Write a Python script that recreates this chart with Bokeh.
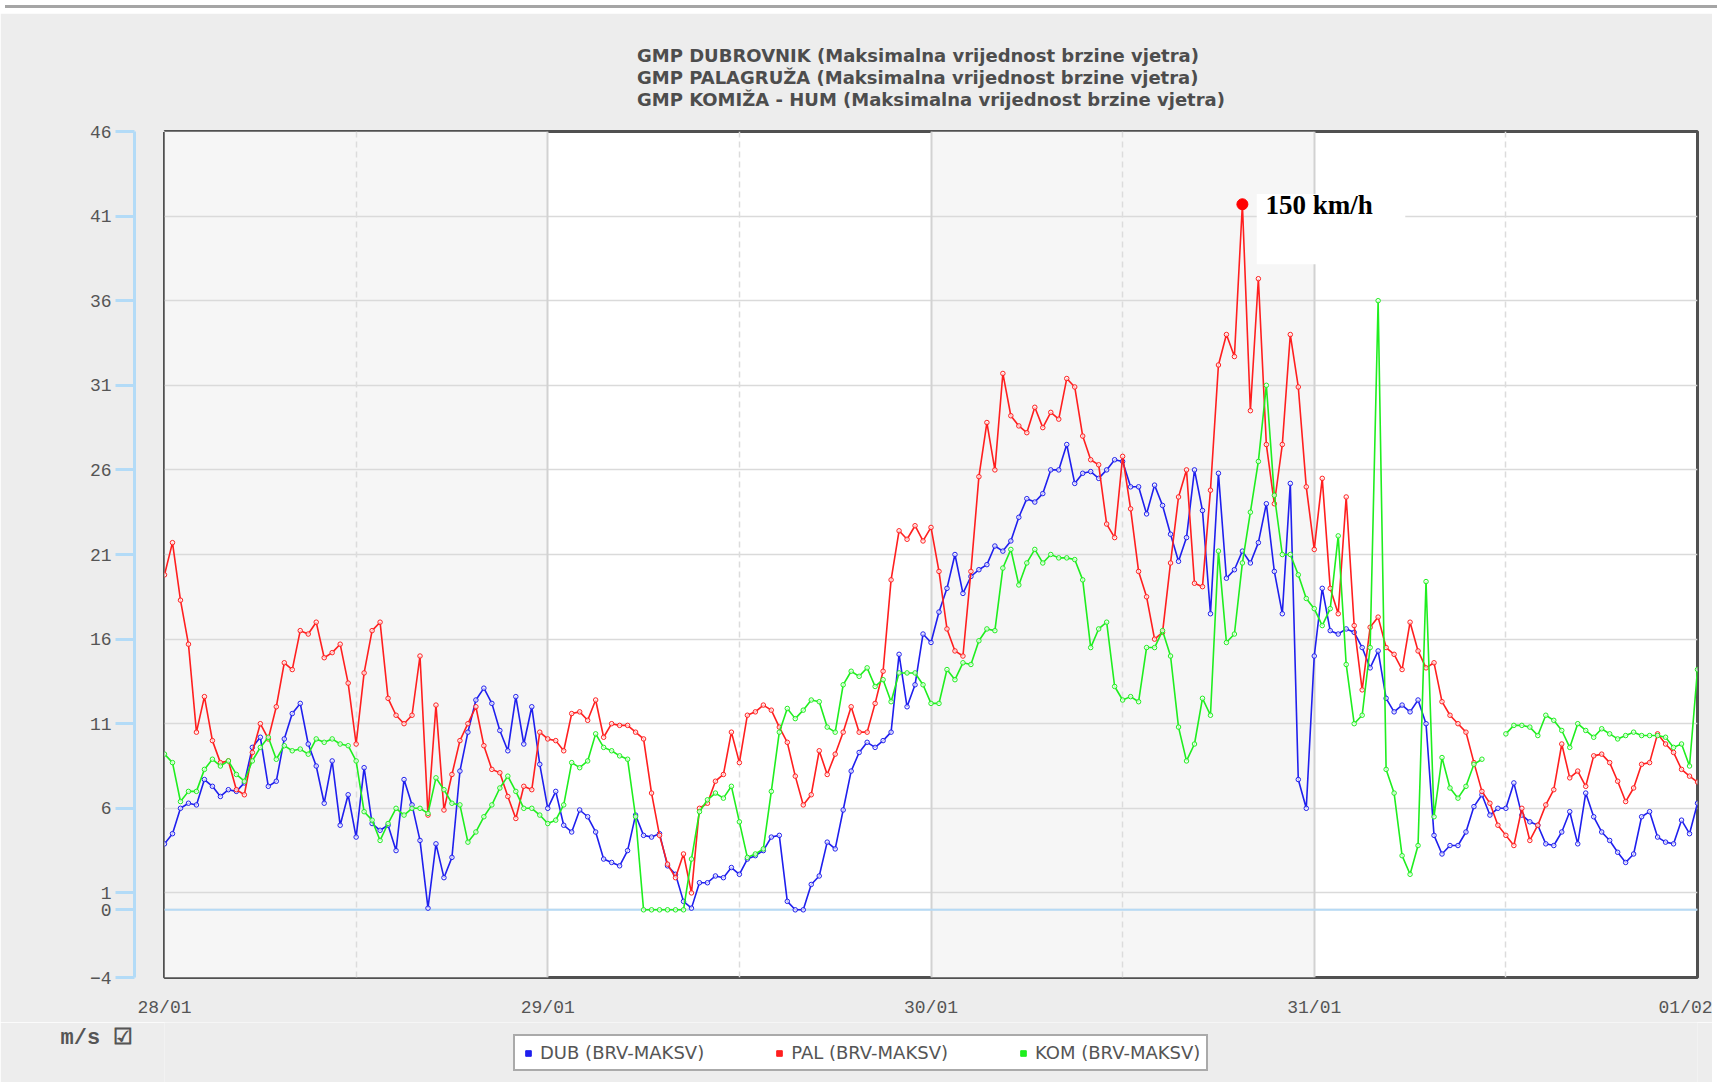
import numpy as np
from bokeh.plotting import figure
from bokeh.models import (ColumnDataSource, FixedTicker, LinearAxis, Grid, Span, Label,
                          Legend, LegendItem, BoxAnnotation, Title, Range1d, Div)
from bokeh.layouts import column
from bokeh.embed import file_html
from bokeh.resources import INLINE

nan = float("nan")

title_lines = [
    "GMP DUBROVNIK (Maksimalna vrijednost brzine vjetra)",
    "GMP PALAGRUŽA (Maksimalna vrijednost brzine vjetra)",
    "GMP KOMIŽA - HUM (Maksimalna vrijednost brzine vjetra)",
]
day_labels = ["28/01", "29/01", "30/01", "31/01", "01/02"]
y_ticks = [-4, 0, 1, 6, 11, 16, 21, 26, 31, 36, 41, 46]
series_names = ["DUB (BRV-MAKSV)", "PAL (BRV-MAKSV)", "KOM (BRV-MAKSV)"]
unit_label = "m/s"
step_hours = 0.5  # one reading every half hour, 28/01 00:00 .. 01/02 00:00

# GMP Dubrovnik (m/s)
dub = [
    3.9, 4.5, 6.0, 6.3, 6.2, 7.7, 7.3, 6.7, 7.1, 7.0, 7.5, 9.6,
    10.2, 7.3, 7.6, 10.1, 11.6, 12.2, 9.8, 8.5, 6.3, 8.8, 5.0, 6.8,
    4.3, 8.4, 5.1, 4.7, 5.0, 3.5, 7.7, 6.2, 4.1, 0.1, 3.9, 1.9,
    3.1, 8.2, 10.5, 12.4, 13.1, 12.2, 10.6, 9.4, 12.6, 9.8, 12.0, 8.6,
    6.0, 7.0, 5.0, 4.6, 5.9, 5.5, 4.6, 3.0, 2.8, 2.6, 3.5, 5.6,
    4.4, 4.3, 4.5, 2.6, 2.1, 0.5, 0.1, 1.6, 1.6, 2.0, 1.9, 2.5,
    2.1, 3.0, 3.2, 3.5, 4.3, 4.4, 0.5, 0.0, 0.0, 1.5, 2.0, 4.0,
    3.6, 5.9, 8.2, 9.3, 9.9, 9.6, 10.0, 10.5, 15.1, 12.0, 13.3, 16.3,
    15.8, 17.6, 19.0, 21.0, 18.7, 19.7, 20.1, 20.4, 21.5, 21.2, 21.8, 23.2,
    24.3, 24.1, 24.6, 26.0, 26.0, 27.5, 25.2, 25.8, 25.9, 25.5, 26.0, 26.6,
    26.5, 25.0, 25.0, 23.4, 25.1, 23.9, 22.2, 20.6, 22.0, 26.0, 23.6, 17.5,
    25.8, 19.6, 20.1, 21.2, 20.5, 21.7, 24.0, 20.0, 17.5, 25.2, 7.7, 6.0,
    15.0, 19.0, 16.5, 16.3, 16.6, 16.4, 15.5, 14.3, 15.3, 12.5, 11.7, 12.1,
    11.7, 12.4, 11.0, 4.4, 3.3, 3.8, 3.8, 4.6, 6.1, 6.8, 5.6, 6.0,
    6.0, 7.5, 5.6, 5.2, 5.0, 3.9, 3.8, 4.6, 5.8, 3.9, 6.9, 5.5,
    4.6, 4.1, 3.4, 2.8, 3.3, 5.5, 5.8, 4.3, 4.0, 3.9, 5.3, 4.5,
    6.3,
]

# GMP Palagruža (m/s)
pal = [
    19.8, 21.7, 18.3, 15.7, 10.5, 12.6, 10.0, 8.7, 8.8, 7.1, 6.8, 9.3,
    11.0, 10.1, 12.0, 14.6, 14.2, 16.5, 16.3, 17.0, 14.9, 15.2, 15.7, 13.4,
    9.8, 14.0, 16.5, 17.0, 12.5, 11.5, 11.0, 11.5, 15.0, 5.6, 12.1, 5.9,
    8.0, 10.0, 11.0, 12.0, 9.7, 8.3, 8.1, 6.7, 5.4, 7.3, 7.1, 10.5,
    10.1, 10.0, 9.4, 11.6, 11.7, 11.2, 12.4, 10.2, 11.0, 10.9, 10.9, 10.5,
    10.1, 6.9, 4.4, 2.7, 1.9, 3.3, 1.0, 6.0, 6.3, 7.6, 8.0, 10.5,
    8.7, 11.5, 11.7, 12.1, 11.8, 10.8, 9.9, 7.9, 6.2, 6.8, 9.4, 8.0,
    9.2, 10.5, 12.0, 10.5, 10.5, 12.2, 14.1, 19.5, 22.4, 21.9, 22.7, 21.8,
    22.6, 20.0, 16.6, 15.3, 15.0, 20.0, 25.6, 28.8, 26.0, 31.7, 29.2, 28.6,
    28.2, 29.7, 28.5, 29.4, 29.0, 31.4, 30.9, 28.0, 26.6, 26.3, 22.8, 22.0,
    26.8, 23.7, 20.0, 18.5, 16.0, 16.4, 20.5, 24.4, 26.0, 19.3, 19.1, 24.8,
    32.2, 34.0, 32.7, 41.7, 29.5, 37.3, 27.5, 24.0, 27.5, 34.0, 30.9, 25.0,
    21.3, 25.5, 19.0, 17.5, 24.4, 16.8, 13.0, 16.7, 17.3, 15.5, 15.1, 14.2,
    17.0, 15.3, 14.3, 14.6, 12.3, 11.5, 11.0, 10.5, 8.7, 7.0, 6.3, 5.0,
    4.4, 3.8, 6.0, 4.1, 5.0, 6.2, 7.1, 9.8, 7.8, 8.2, 7.3, 9.1,
    9.2, 8.7, 7.6, 6.4, 7.2, 8.6, 8.7, 10.4, 9.8, 9.3, 8.3, 7.9,
    7.55,
]

# GMP Komiža - Hum (m/s); nan = missing readings
kom = [
    9.2, 8.7, 6.4, 7.0, 7.0, 8.3, 8.9, 8.5, 8.8, 8.0, 7.6, 8.8,
    9.6, 10.2, 8.9, 9.7, 9.4, 9.5, 9.2, 10.1, 9.9, 10.1, 9.8, 9.7,
    8.8, 5.8, 5.3, 4.1, 5.1, 6.0, 5.6, 6.0, 6.0, 5.7, 7.8, 7.1,
    6.3, 6.2, 4.0, 4.6, 5.5, 6.2, 7.2, 7.9, 7.0, 6.0, 6.0, 5.6,
    5.1, 5.3, 6.2, 8.7, 8.4, 8.8, 10.4, 9.6, 9.4, 9.1, 8.9, 5.5,
    0.0, 0.0, 0.0, 0.0, 0.0, 0.0, 3.0, 5.8, 6.5, 6.9, 6.6, 7.3,
    5.2, 3.1, 3.3, 3.6, 7.0, 10.5, 11.9, 11.3, 11.8, 12.4, 12.3, 10.8,
    10.5, 13.3, 14.1, 13.8, 14.3, 13.2, 13.6, 12.3, 14.0, 14.0, 14.0, 13.3,
    12.2, 12.2, 14.2, 13.6, 14.6, 14.5, 15.9, 16.6, 16.5, 20.2, 21.3, 19.2,
    20.5, 21.3, 20.5, 21.0, 20.8, 20.8, 20.7, 19.5, 15.5, 16.6, 17.0, 13.2,
    12.4, 12.6, 12.3, 15.5, 15.5, 16.5, 15.0, 10.8, 8.8, 9.8, 12.5, 11.5,
    21.2, 15.8, 16.3, 20.5, 23.5, 26.5, 31.0, 24.5, 21.0, 21.0, 19.8, 18.4,
    17.8, 16.8, 17.8, 22.1, 14.5, 11.0, 11.5, 15.5, 36.0, 8.3, 6.9, 3.2,
    2.1, 3.8, 19.4, 5.5, 9.0, 7.2, 6.6, 7.3, 8.6, 8.9, nan, nan,
    10.4, 10.9, 10.9, 10.8, 10.3, 11.5, 11.2, 10.6, 9.6, 11.0, 10.6, 10.2,
    10.7, 10.4, 10.1, 10.3, 10.5, 10.3, 10.3, 10.3, 10.2, 9.6, 9.8, 8.5,
    14.2,
]

series_values = [dub, pal, kom]
series_colors = ["#1f1fee", "#ff1f1f", "#1fee1f"]

hours = np.arange(len(dub)) * step_hours
day_ticks = [24 * i for i in range(len(day_labels))]
noon_ticks = [t + 12 for t in day_ticks[:-1]]

BG = "#ededed"
W, H1, H2 = 1712, 1009, 60
p = figure(width=W, height=H1, output_backend="svg", toolbar_location=None,
           x_range=Range1d(day_ticks[0], day_ticks[-1]),
           y_range=Range1d(y_ticks[0], y_ticks[-1]),
           min_border_left=164, min_border_right=15, min_border_top=118, min_border_bottom=45,
           background_fill_color="white", border_fill_color=BG,
           outline_line_color="#505050", outline_line_width=3)
p.grid.visible = False

# alternating day bands
for a, b in zip(day_ticks[0:-1:2], day_ticks[1::2]):
    p.add_layout(BoxAnnotation(left=a, right=b, fill_color="#f6f6f6", fill_alpha=1.0,
                               line_color=None, level="image"))

# grids
p.add_layout(Grid(dimension=1, ticker=FixedTicker(ticks=y_ticks),
                  grid_line_color="#dadada", grid_line_width=1.5))
p.add_layout(Grid(dimension=0, ticker=FixedTicker(ticks=day_ticks),
                  grid_line_color="#d2d2d2", grid_line_width=2))
p.add_layout(Grid(dimension=0, ticker=FixedTicker(ticks=noon_ticks),
                  grid_line_color="#dcdcdc", grid_line_width=1.5, grid_line_dash="6 4"))
p.add_layout(Span(location=0, dimension="width", line_color="#b6daf5",
                  line_width=2, level="underlay"))

# x axis
xa = p.xaxis[0]
xa.ticker = FixedTicker(ticks=day_ticks)
xa.major_label_overrides = {t: lab for t, lab in zip(day_ticks, day_labels)}
xa.axis_line_color = None
xa.major_tick_line_color = None
xa.minor_tick_line_color = None
xa.major_tick_out = 0
xa.major_tick_in = 0
xa.major_label_standoff = 20
xa.major_label_text_font = "Liberation Mono"
xa.major_label_text_font_size = "18px"
xa.major_label_text_color = "#555555"

# spacer (default y axis): one invisible tick keeps the visible axis away from the frame
ya0 = p.yaxis[0]
ya0.ticker = FixedTicker(ticks=[y_ticks[-1]])
ya0.major_label_overrides = {y_ticks[-1]: ""}
ya0.axis_line_color = None
ya0.major_tick_line_color = BG
ya0.minor_tick_line_color = None
ya0.major_tick_out = 30
ya0.major_tick_in = 0
ya0.major_label_standoff = 0

ya = LinearAxis(ticker=FixedTicker(ticks=y_ticks))
ya.axis_line_color = "#b3dbf7"
ya.axis_line_width = 3
ya.major_tick_line_color = "#b3dbf7"
ya.major_tick_line_width = 3
ya.major_tick_out = 19
ya.major_tick_in = 0
ya.minor_tick_line_color = None
ya.major_label_standoff = 4
ya.major_label_text_font = "Liberation Mono"
ya.major_label_text_font_size = "18px"
ya.major_label_text_color = "#555555"
p.add_layout(ya, "left")

# three-line title
p.add_layout(Title(text="\n".join(title_lines), align="center", text_font="DejaVu Sans",
                   text_font_size="18px", text_font_style="bold", text_line_height=1.05,
                   text_color="#4d4d4d", standoff=42), "above")

# peak annotation box (behind the lines)
i_pk = int(np.nanargmax(pal))
pk_h, pk_v = float(hours[i_pk]), float(pal[i_pk])
p.add_layout(BoxAnnotation(left=pk_h + 0.9, right=pk_h + 10.2, top=pk_v + 0.6,
                           bottom=pk_v - 3.55, fill_color="white", fill_alpha=1.0,
                           line_color=None, level="underlay"))

# strip below the chart that carries the legend and the unit switch
# (its frame lines up with the chart frame; y runs in pixels 0..H2)
p2 = figure(width=W, height=H2, output_backend="svg", toolbar_location=None,
            x_range=Range1d(0, 1), y_range=Range1d(0, H2), x_axis_type=None, y_axis_type=None,
            min_border=0, background_fill_color=BG, border_fill_color=BG,
            outline_line_color=None)
p2.grid.visible = False

unit_tick = 51
unit_axis = LinearAxis(ticker=FixedTicker(ticks=[unit_tick]),
                       major_label_overrides={unit_tick: unit_label + "  ☑"},
                       axis_line_color=None, major_tick_line_color=None,
                       minor_tick_line_color=None, major_tick_out=0, major_tick_in=0,
                       major_label_standoff=18, major_label_text_font="Liberation Mono",
                       major_label_text_font_size="22px", major_label_text_font_style="bold",
                       major_label_text_color="#555555")
p2.add_layout(unit_axis, "left")

legend_items = []
for name, vals, col in zip(series_names, series_values, series_colors):
    src = ColumnDataSource(dict(x=hours, y=np.array(vals, dtype=float)))
    p.line("x", "y", source=src, line_color=col, line_width=1.6)
    p.scatter("x", "y", source=src, marker="circle", size=4.5, line_color=col,
              line_width=1, fill_color="white", fill_alpha=0.7)
    sq = p2.scatter("x", "y", source=src, marker="square", size=0, fill_color=col,
                    line_color=col)
    legend_items.append(LegendItem(label=name, renderers=[sq]))

# peak marker and its label
p.scatter([pk_h], [pk_v], marker="circle", size=11, color="#ff0000")
p.add_layout(Label(x=pk_h, y=pk_v, x_offset=23, y_offset=14,
                   text=f"{round(pk_v * 3.6):.0f} km/h", text_baseline="top",
                   text_font="Liberation Serif", text_font_size="27px",
                   text_font_style="bold", text_color="black"))

legend = Legend(items=legend_items, orientation="horizontal", location=(349, 11),
                border_line_color="#555555", border_line_width=2,
                background_fill_color="white", background_fill_alpha=1.0,
                label_text_font="DejaVu Sans", label_text_font_size="18px",
                label_text_color="#555555", glyph_width=14, glyph_height=18,
                label_standoff=5, spacing=68, padding=6, margin=0)
p2.add_layout(legend)

top_bar = Div(text="", width=W, height=3, styles={"background-color": "#a5a5a5"})
layout = column(top_bar, p, p2, spacing=0)

with open("out.html", "w") as f:
    f.write(file_html(layout, INLINE))
